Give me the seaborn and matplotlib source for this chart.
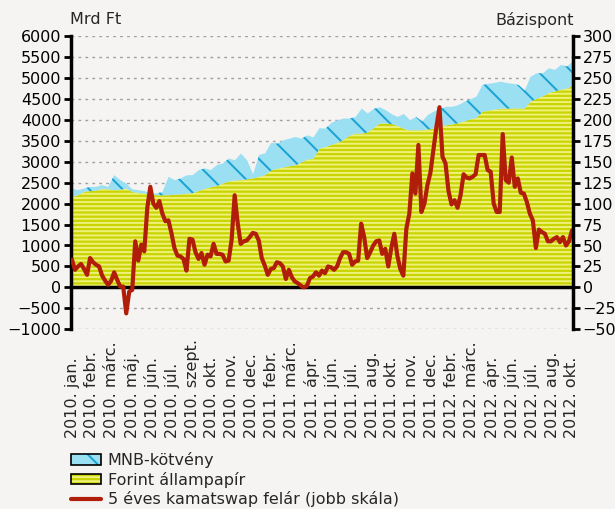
"""
plot.py - Forint állampapír / MNB-kötvény állomány és 5 éves kamatswap felár
"""

import numpy as np
import pandas as pd
import matplotlib
matplotlib.use('Agg')
import matplotlib.pyplot as plt
import seaborn as sns
from matplotlib.patches import Patch
from matplotlib.lines import Line2D

#  Data 
month_labels = [
    "2010. jan.", "2010. febr.", "2010. márc.", "2010. máj.", "2010. jún.",
    "2010. júl.", "2010. szept.", "2010. okt.", "2010. nov.", "2010. dec.",
    "2011. febr.", "2011. márc.", "2011. ápr.", "2011. jún.", "2011. júl.",
    "2011. aug.", "2011. okt.", "2011. nov.", "2011. dec.", "2012. febr.",
    "2012. márc.", "2012. ápr.", "2012. jún.", "2012. júl.", "2012. aug.",
    "2012. okt.",
]

# Forint állampapír (Mrd Ft)
forint = [
    2160, 2200, 2280, 2300, 2310, 2350, 2340, 2320, 2330, 2360,
    2280, 2250, 2240, 2210, 2200, 2200, 2200, 2210, 2220, 2235,
    2250, 2300, 2350, 2390, 2420, 2480, 2530, 2550, 2560, 2580,
    2600, 2640, 2680, 2790, 2830, 2860, 2890, 2910, 2980, 3050,
    3070, 3310, 3350, 3400, 3450, 3520, 3620, 3670, 3670, 3700,
    3800, 3910, 3910, 3900, 3850, 3780, 3750, 3750, 3750, 3770,
    3790, 3830, 3870, 3890, 3920, 3960, 4010, 4040, 4190, 4220,
    4240, 4260, 4270, 4270, 4270, 4270, 4430, 4500, 4560, 4640,
    4680, 4720, 4740, 4830,
]

# MNB-kötvény (Mrd Ft)
mnb = [
    200, 120, 80, 100, 90, 90, 60, 360, 230, 120,
    60, 70, 60, 30, 40, 80, 440, 350, 380, 440,
    430, 500, 490, 410, 500, 480, 545, 485, 635, 455,
    100, 520, 520, 660, 600, 650, 660, 680, 570, 580,
    510, 490, 440, 530, 540, 510, 410, 400, 600, 450,
    460, 390, 320, 230, 220, 360, 240, 320, 210, 350,
    410, 430, 440, 420, 430, 470, 480, 510, 640, 640,
    640, 650, 610, 590, 560, 430, 600, 610, 550, 590,
    510, 590, 530, 570,
]

# 5 éves kamatswap felár (bázispont)
swap_bp = [
    33, 21, 25, 28, 22, 15, 35, 30, 27, 25,
    14, 8, 3, 8, 18, 9, 1, 1, -31, -5,
    -3, 55, 32, 51, 43, 95, 120, 100, 95, 103,
    88, 79, 80, 65, 47, 38, 37, 34, 20, 58,
    57, 42, 34, 41, 27, 39, 37, 52, 40, 40,
    39, 31, 32, 57, 110, 77, 52, 55, 56, 60,
    65, 64, 56, 35, 26, 15, 22, 23, 30, 29,
    25, 10, 21, 12, 7, 5, 2, 0, 2, 11,
    13, 18, 14, 20, 17, 25, 24, 21, 25, 35,
    42, 42, 40, 27, 31, 32, 76, 60, 35, 42,
    50, 55, 56, 40, 46, 25, 47, 64, 38, 22,
    14, 70, 88, 136, 112, 170, 90, 100, 122, 137,
    165, 192, 215, 156, 148, 115, 99, 104, 95, 110,
    135, 131, 130, 132, 135, 158, 158, 158, 140, 138,
    100, 90, 90, 183, 128, 125, 155, 120, 130, 113,
    112, 102, 88, 80, 47, 69, 66, 64, 55, 55,
    58, 60, 54, 60, 50, 55, 68,
]

BG = "#f5f4f2"
BLUE = "#9bdff3"
BLUE_H = "#18a2d4"
GREEN = "#c9d400"
GREEN_H = "#eef27a"
RED = "#b01e0a"

#  Style 
sns.set_theme(style="white")
plt.rcParams.update({
    "font.family": ["DejaVu Sans"],
    "font.size": 11.5,
    "hatch.linewidth": 1.4,
    "axes.facecolor": BG,
    "figure.facecolor": BG,
})

area = pd.DataFrame({
    "t": np.linspace(0, 50.1, len(forint)),
    "forint": forint,
    "mnb": mnb,
})
area["total"] = area["forint"] + area["mnb"]
line = pd.DataFrame({"t": np.linspace(0, 50, len(swap_bp)), "bp": swap_bp})

fig = plt.figure(figsize=(6.15, 5.09), dpi=100)
ax = fig.add_axes([71 / 615, 1 - 329.3 / 509, 502 / 615, 293.3 / 509])
ax.set_facecolor(BG)

# grid (dotted)
for v in range(-1000, 6001, 500):
    if v != 0:
        ax.axhline(v, color="#a0a0a0", lw=1.0, ls=(0, (2, 3)), zorder=0)

ax.fill_between(area["t"], 0, area["forint"], facecolor=GREEN,
                edgecolor=GREEN_H, hatch="----", lw=0, zorder=2)
ax.fill_between(area["t"], area["forint"], area["total"], facecolor=BLUE,
                edgecolor=BLUE_H, hatch="\\", lw=0, zorder=2)

ax.set_xlim(-0.1, 50.1)
ax.set_ylim(-1000, 6000)
ax.set_yticks(range(-1000, 6001, 500))
ax.set_xticks(range(0, 51))
ax.tick_params(axis="y", direction="out", length=5, width=2, pad=2,
               labelsize=11.5, colors="black")
ax.tick_params(axis="x", direction="out", length=4, width=2,
               labelbottom=False)
for s in ["top", "right"]:
    ax.spines[s].set_visible(False)
ax.spines["left"].set_linewidth(2.5)
ax.spines["left"].set_color("black")
ax.spines["bottom"].set_position(("data", 0))
ax.spines["bottom"].set_linewidth(2.5)
ax.spines["bottom"].set_color("black")
ax.spines["bottom"].set_zorder(5)

# right axis: swap spread
ax2 = ax.twinx()
sns.lineplot(data=line, x="t", y="bp", ax=ax2, color=RED, lw=3,
             legend=False)
ax2.set_ylim(-50, 300)
ax2.set_yticks(range(-50, 301, 25))
ax2.set_xlim(-0.1, 50.1)
ax2.set_xlabel("")
ax2.set_ylabel("")
ax2.tick_params(axis="y", direction="out", length=5, width=2, pad=2,
                labelsize=11.5, colors="black")
for s in ["top", "left", "bottom"]:
    ax2.spines[s].set_visible(False)
ax2.spines["right"].set_linewidth(2.5)
ax2.spines["right"].set_color("black")

# month labels under the chart
xtr = ax.get_xaxis_transform()
for k, lab in enumerate(month_labels):
    ax.text(2 * k, -0.372, lab, transform=xtr, rotation=90,
            ha="center", va="bottom", fontsize=11.5)

fig.text(70 / 615, 1 - 20 / 509, "Mrd Ft", ha="left", va="center",
         fontsize=11.5)
fig.text(574 / 615, 1 - 20 / 509, "Bázispont", ha="right", va="center",
         fontsize=11.5)

handles = [
    (Patch(facecolor=BLUE, edgecolor=BLUE_H, hatch="\\", lw=0),
     Patch(facecolor="none", edgecolor="black", lw=1.2)),
    (Patch(facecolor=GREEN, edgecolor=GREEN_H, hatch="----", lw=0),
     Patch(facecolor="none", edgecolor="black", lw=1.2)),
    Line2D([], [], color=RED, lw=3),
]
labels = ["MNB-kötvény", "Forint állampapír",
          "5 éves kamatswap felár (jobb skála)"]
fig.legend(handles, labels, loc="upper left",
           bbox_to_anchor=(71 / 615, 1 - 452 / 509), frameon=False,
           fontsize=11.5, borderpad=0, borderaxespad=0, handlelength=1.9,
           handleheight=0.65, handletextpad=0.4, labelspacing=0.22)

plt.savefig("out.png", dpi=100, facecolor=BG)
plt.close()
